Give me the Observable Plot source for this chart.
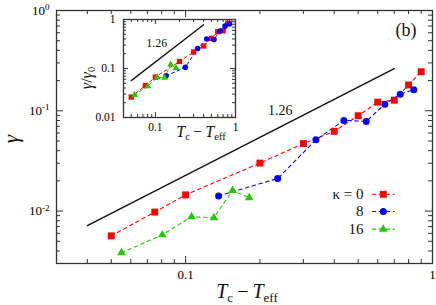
<!DOCTYPE html>
<html><head><meta charset="utf-8">
<script src="https://cdn.jsdelivr.net/npm/d3@7"></script>
<script src="https://cdn.jsdelivr.net/npm/@observablehq/plot@0.6"></script>
<style>
body{margin:0;background:#fff;}
#wrap{position:relative;width:436px;height:305px;overflow:hidden;}
#inset{position:absolute;left:78px;top:15px;}
</style></head><body><div id="wrap"><div id="main"></div><div id="inset"></div></div>
<script>
// ---------- data ----------
const kappaLabels = ["\u03ba = 0", "8", "16"];
const seriesColors = ["#ff0000", "#0000ff", "#22c800"];
const seriesSymbols = ["square", "circle", "triangle"];

const redX = [0.05, 0.075, 0.1, 0.2, 0.3, 0.4, 0.5, 0.6, 0.7, 0.8, 0.9];
const redY = [0.00566, 0.00977, 0.0145, 0.0301, 0.0471, 0.0624, 0.0892, 0.122, 0.1276, 0.181, 0.245];
const blueX = [0.136, 0.236, 0.337, 0.4375, 0.539, 0.641, 0.74, 0.84];
const blueY = [0.01417, 0.0211, 0.0513, 0.0802, 0.0784, 0.1165, 0.1463, 0.1625];
const greenX = [0.055, 0.0805, 0.1057, 0.1302, 0.155, 0.181];
const greenY = [0.00384, 0.00579, 0.00878, 0.00858, 0.01603, 0.01355];

// inset: gamma / gamma0
const redInsetY = [0.0261, 0.045, 0.0668, 0.139, 0.217, 0.288, 0.411, 0.562, 0.588, 0.834, 1.13];
const blueInsetY = [0.0709, 0.1055, 0.2565, 0.401, 0.392, 0.5825, 0.7315, 0.8125];
const greenInsetY = [0.0289, 0.0435, 0.066, 0.0645, 0.1205, 0.1019];

// power-law guide lines (slope 1.26)
const slopeLabel = "1.26";
const guideX = [0.04, 0.7];
const guideY = [0.00715, 0.263];
const guideLabelPos = {x: 0.242, y: 0.1};
const insetGuideX = [0.05, 0.4];
const insetGuideY = [0.0566, 0.78];
const insetGuideLabelPos = {x: 0.104, y: 0.336};

// ticks
const xMajor = [0.1, 1];
const xMinor = [0.04, 0.05, 0.06, 0.07, 0.08, 0.09, 0.2, 0.3, 0.4, 0.5, 0.6, 0.7, 0.8, 0.9];
const yMajor = [0.01, 0.1, 1];
const yMinor = [0.004, 0.005, 0.006, 0.007, 0.008, 0.009, 0.02, 0.03, 0.04, 0.05, 0.06, 0.07, 0.08, 0.09,
                0.2, 0.3, 0.4, 0.5, 0.6, 0.7, 0.8, 0.9];
const insetXMinor = [0.05, 0.06, 0.07, 0.08, 0.09, 0.2, 0.3, 0.4, 0.5, 0.6, 0.7, 0.8, 0.9];
const insetYMinor = [0.02, 0.03, 0.04, 0.05, 0.06, 0.07, 0.08, 0.09, 0.2, 0.3, 0.4, 0.5, 0.6, 0.7, 0.8, 0.9];

// legend placement (in data units of the main panel)
const legendRowsY = [0.0147, 0.0099, 0.0066];
const legendTextX = 0.525;
const legendLineX = [0.57, 0.70];
const legendMarkX = 0.632;

// ---------- build ----------
const rows = (xs, ys, i) => xs.map((x, j) => ({x, y: ys[j], s: i}));
const mainSeries = [rows(redX, redY, 0), rows(blueX, blueY, 1), rows(greenX, greenY, 2)];
const insetSeries = [rows(redX, redInsetY, 0), rows(blueX, blueInsetY, 1), rows(greenX, greenInsetY, 2)];
const guide = guideX.map((x, i) => ({x, y: guideY[i]}));
const insetGuide = insetGuideX.map((x, i) => ({x, y: insetGuideY[i]}));

const serif = "'Liberation Serif','Times New Roman',serif";
const axisColor = "#333";

function tickMarks(fw, fh, xmaj, xmin, ymaj, ymin, lmaj, lmin) {
  const o = {stroke: axisColor, strokeWidth: 1};
  return [
    Plot.tickX(xmin, {x: d => d, insetTop: fh - lmin, ...o}),
    Plot.tickX(xmin, {x: d => d, insetBottom: fh - lmin, ...o}),
    Plot.tickX(xmaj, {x: d => d, insetTop: fh - lmaj, ...o}),
    Plot.tickX(xmaj, {x: d => d, insetBottom: fh - lmaj, ...o}),
    Plot.tickY(ymin, {y: d => d, insetRight: fw - lmin, ...o}),
    Plot.tickY(ymin, {y: d => d, insetLeft: fw - lmin, ...o}),
    Plot.tickY(ymaj, {y: d => d, insetRight: fw - lmaj, ...o}),
    Plot.tickY(ymaj, {y: d => d, insetLeft: fw - lmaj, ...o})
  ];
}

function seriesMarks(series, rs, lw, dash, clip) {
  const m = [];
  series.forEach((d, i) => {
    m.push(Plot.line(d, {x: "x", y: "y", stroke: seriesColors[i], strokeWidth: lw, strokeDasharray: dash, clip}));
  });
  series.forEach((d, i) => {
    m.push(Plot.dot(d, {x: "x", y: "y", symbol: seriesSymbols[i], r: rs[i], fill: seriesColors[i], stroke: "none", clip}));
  });
  return m;
}

// main panel
const W = 436, H = 305, mL = 56, mR = 4, mT = 10, mB = 42;
const fw = W - mL - mR, fh = H - mT - mB;

const legend = kappaLabels.map((label, i) => ({label, i, y: legendRowsY[i]}));
const legendLines = legend.flatMap(d => legendLineX.map(x => ({x, y: d.y, i: d.i})));

const main = Plot.plot({
  width: W, height: H, marginLeft: mL, marginRight: mR, marginTop: mT, marginBottom: mB,
  x: {type: "log", domain: [0.03, 1]},
  y: {type: "log", domain: [0.003, 1]},
  style: {fontFamily: serif, fontSize: "13px", color: "#000", background: "white"},
  marks: [
    ...tickMarks(fw, fh, xMajor, xMinor, yMajor, yMinor, 7, 4),
    Plot.axisX({ticks: xMajor, tickSize: 0, tickPadding: 6, tickFormat: d => (d >= 1 ? "1" : "0.1"), label: null, fontSize: 13}),
    Plot.axisY({ticks: yMajor, tickSize: 0, tickPadding: 7, tickFormat: d => "10^" + Math.round(Math.log10(d)), label: null, fontSize: 13}),
    Plot.line(guide, {x: "x", y: "y", stroke: "#111", strokeWidth: 1.4}),
    Plot.text([guideLabelPos], {x: "x", y: "y", text: () => slopeLabel, fontSize: 14, fill: "#111"}),
    ...seriesMarks(mainSeries, [3.9, 3.5, 3.2], 1.1, "3.5,3.5", false),
    // legend
    Plot.text(legend, {x: () => legendTextX, y: "y", text: "label", textAnchor: "end", fontSize: 15, fill: "#111"}),
    ...[0, 1, 2].map(i => Plot.line(legendLines.filter(d => d.i === i), {x: "x", y: "y", stroke: seriesColors[i], strokeWidth: 1.1, strokeDasharray: "3.5,3.5"})),
    ...[0, 1, 2].map(i => Plot.dot(legend.filter(d => d.i === i), {x: () => legendMarkX, y: "y", symbol: seriesSymbols[i], r: [3.9, 3.5, 3.2][i], fill: seriesColors[i]})),
    Plot.frame({stroke: axisColor, strokeWidth: 1.3})
  ]
});
document.getElementById("main").appendChild(main);

// superscript exponents on y tick labels
d3.select(main).selectAll('g[aria-label="y-axis tick label"] text').each(function () {
  const t = d3.select(this);
  const s = t.text();
  const [base, exp] = s.split("^");
  t.text(base);
  t.append("tspan").attr("dy", "-0.5em").attr("font-size", "9px").text(exp);
});

// 'γ' label and Tc - Teff label and (b)
const msvg = d3.select(main);
msvg.append("text").attr("transform", "translate(18,139) rotate(-90)").attr("text-anchor", "middle")
  .attr("font-family", serif).attr("font-size", 21).attr("font-style", "italic").attr("fill", "#111").text("\u03b3");
function teffLabel(sel, x, y, fs, sub, subDy) {
  const t = sel.append("text").attr("x", x).attr("y", y).attr("text-anchor", "middle")
    .attr("font-family", serif).attr("font-size", fs).attr("fill", "#111");
  t.append("tspan").attr("font-style", "italic").text("T");
  t.append("tspan").attr("font-size", sub).attr("dy", subDy).text("c");
  t.append("tspan").attr("dy", -subDy).text("\u2009\u2212\u2009");
  t.append("tspan").attr("font-style", "italic").text("T");
  t.append("tspan").attr("font-size", sub).attr("dy", subDy).text("eff");
}
teffLabel(msvg, 247, 298, 20, 13, 4);
msvg.append("text").attr("x", 406).attr("y", 36).attr("text-anchor", "middle")
  .attr("font-family", serif).attr("font-size", 18).attr("fill", "#111").text("(b)");

// inset panel
const iW = 163, iH = 132, iL = 45, iR = 6, iT = 4, iB = 30;
const ifw = iW - iL - iR, ifh = iH - iT - iB;
const inset = Plot.plot({
  width: iW, height: iH, marginLeft: iL, marginRight: iR, marginTop: iT, marginBottom: iB,
  x: {type: "log", domain: [0.04, 1]},
  y: {type: "log", domain: [0.01, 1]},
  style: {fontFamily: serif, fontSize: "11.5px", color: "#000", background: "none", overflow: "visible"},
  marks: [
    Plot.frame({fill: "white", stroke: "none"}),
    ...tickMarks(ifw, ifh, xMajor, insetXMinor, yMajor, insetYMinor, 5, 3),
    Plot.axisX({ticks: xMajor, tickSize: 0, tickPadding: 5, tickFormat: d => (d >= 1 ? "1" : "0.1"), label: null, fontSize: 11.5}),
    Plot.axisY({ticks: yMajor, tickSize: 0, tickPadding: 8, tickFormat: d => (d >= 1 ? "1" : d >= 0.1 ? "0.1" : "0.01"), label: null, fontSize: 11.5}),
    Plot.line(insetGuide, {x: "x", y: "y", stroke: "#111", strokeWidth: 1.3}),
    Plot.text([insetGuideLabelPos], {x: "x", y: "y", text: () => slopeLabel, fontSize: 12, fill: "#111"}),
    ...seriesMarks(insetSeries, [3, 2.8, 2.6], 1, "3,3", true),
    Plot.frame({stroke: axisColor, strokeWidth: 1.3})
  ]
});
document.getElementById("inset").appendChild(inset);
const isvg = d3.select(inset);
teffLabel(isvg, 123, 122, 16, 10.5, 3);
const yl = isvg.append("text").attr("transform", "translate(14,63) rotate(-90)").attr("text-anchor", "middle")
  .attr("font-family", serif).attr("font-size", 16).attr("fill", "#111");
yl.append("tspan").attr("font-style", "italic").text("\u03b3");
yl.append("tspan").text("/");
yl.append("tspan").attr("font-style", "italic").text("\u03b3");
yl.append("tspan").attr("font-size", 10.5).attr("dy", 3).text("0");
</script></body></html>
